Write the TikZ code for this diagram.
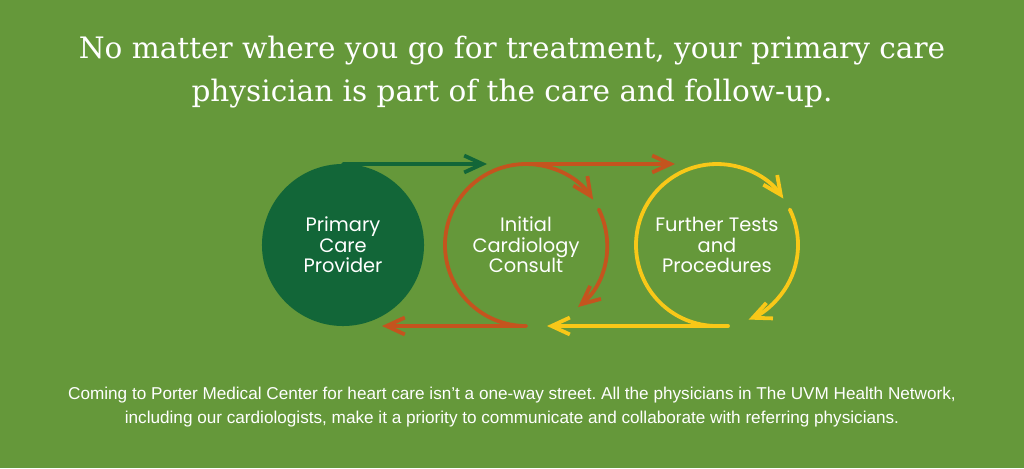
\documentclass[tikz,border=0pt]{standalone}
\usepackage{fontspec}
\setmainfont{DejaVu Serif}
\setsansfont{Poppins}
\newfontfamily\notefont{Liberation Sans}
\usetikzlibrary{arrows.meta}
\definecolor{bggreen}{RGB}{101,152,58}
\definecolor{pcpgreen}{RGB}{18,102,56}
\definecolor{icorange}{RGB}{196,84,30}
\definecolor{ftyellow}{RGB}{248,200,24}
\tikzstyle{Step} = [circle, minimum size=4.05cm, inner sep=0pt, outer sep=0pt,
align=center, text=white, font=\sffamily\fontsize{13.8}{14.6}\selectfont]
\tikzstyle{Loop} = [line width=2.7pt, line cap=round,
-{Straight Barb[length=13pt,width=12pt]}]
\frenchspacing

\begin{document}
\begin{tikzpicture}[x=0.025cm, y=0.025cm]
    \fill[bggreen] (0,0) rectangle (1024,468);
    \useasboundingbox (0,0) rectangle (1024,468);
    \node[text=white, align=center, font=\fontsize{21}{30.5}\selectfont] (title) at (512,396)
        {No matter where you go for treatment, your primary care\\physician is part of the care and follow-up.};
    \node[Step, fill=pcpgreen] (pcp) at (343,223) {Primary\\Care\\Provider};
    \node[Step] (icc) at (526,223) {Initial\\Cardiology\\Consult};
    \node[Step] (ftp) at (717,223) {Further Tests\\and\\Procedures};
    \coordinate (gtip) at (487,304);
    \coordinate (otip) at (675,304);
    \coordinate (oback) at (382,142);
    \coordinate (ystart) at (728,142);
    \coordinate (yback) at (547,142);
    % green
    \draw[Loop, pcpgreen] (pcp.north) -- (gtip);
    % orange
    \draw[Loop, icorange] (icc.south) -- (oback);
    \draw[Loop, icorange] (icc.south) arc[start angle=270, end angle=34, radius=81];
    \draw[Loop, icorange] (icc.north) -- (otip);
    \draw[Loop, icorange] (icc.26) arc[start angle=26, end angle=-50, radius=81];
    % yellow
    \draw[Loop, ftyellow] (ystart) -- (yback);
    \draw[Loop, ftyellow] (ftp.south) arc[start angle=270, end angle=35, radius=81];
    \draw[Loop, ftyellow] (ftp.26) arc[start angle=26, end angle=-67, radius=81];
    \node[text=white, align=center, font=\notefont\fontsize{12.2}{17}\selectfont] (note) at (512,61)
        {Coming to Porter Medical Center for heart care isn’t a one-way street. All the physicians in The UVM Health Network,\\including our cardiologists, make it a priority to communicate and collaborate with referring physicians.};
\end{tikzpicture}
\end{document}
